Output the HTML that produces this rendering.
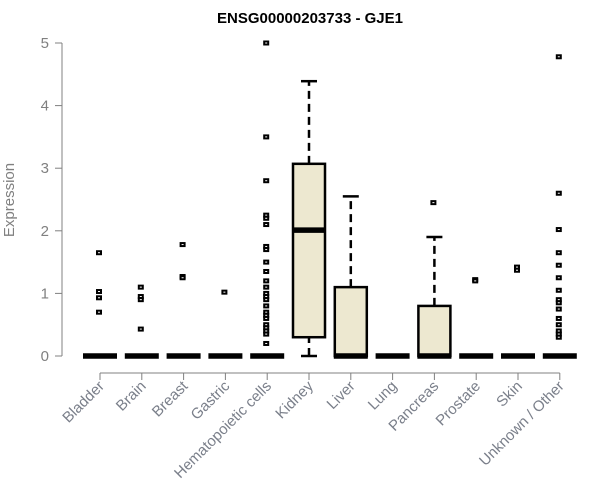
<!DOCTYPE html>
<html><head><meta charset="utf-8"><style>body{margin:0;background:#fff}svg{display:block}</style></head><body>
<svg id="c" width="600" height="500" xmlns="http://www.w3.org/2000/svg" font-family="Liberation Sans, Arial, sans-serif">
<text x="310" y="23" text-anchor="middle" font-weight="bold" font-size="15">ENSG00000203733 - GJE1</text>
<text transform="translate(14,200) rotate(-90)" text-anchor="middle" font-size="15" fill="#808080">Expression</text>
</svg>
<script>
const categories=["Bladder","Brain","Breast","Gastric","Hematopoietic cells","Kidney","Liver","Lung","Pancreas","Prostate","Skin","Unknown / Other"];
const q1=[0,0,0,0,0,0.30,0,0,0,0,0,0];
const medians=[0,0,0,0,0,2.01,0,0,0,0,0,0];
const q3=[0,0,0,0,0,3.07,1.10,0,0.80,0,0,0];
const whiskLo=[0,0,0,0,0,0,0,0,0,0,0,0];
const whiskHi=[0,0,0,0,0,4.39,2.55,0,1.90,0,0,0];
const outliers=[[1.65,1.03,0.93,0.7],[1.1,0.95,0.9,0.43],[1.78,1.27,1.25],[1.02],
[5.0,3.5,2.8,2.25,2.2,2.1,1.75,1.7,1.5,1.35,1.2,1.1,1.0,0.95,0.9,0.8,0.7,0.65,0.6,0.5,0.45,0.4,0.35,0.2],
[],[],[],[2.45],[1.22,1.2],[1.42,1.37],[4.78,2.6,2.02,1.65,1.45,1.25,1.05,0.9,0.85,0.75,0.6,0.5,0.4,0.35,0.3]];
const yTicks=[0,1,2,3,4,5];
const svg=document.getElementById('c');const NS='http://www.w3.org/2000/svg';
const x0=100,dx=41.8,y0=356,ky=62.6;
const X=i=>x0+i*dx, Y=v=>y0-v*ky;
function el(t,a,p){const e=document.createElementNS(NS,t);for(const k in a)e.setAttribute(k,a[k]);(p||svg).appendChild(e);return e;}
const ya=el('g',{});


el('line',{x1:62,x2:62,y1:Y(0),y2:Y(5),stroke:'#808080'},ya);
yTicks.forEach(v=>{el('line',{x1:55,x2:62,y1:Y(v),y2:Y(v),stroke:'#808080'},ya);
const t=el('text',{x:49,y:Y(v)+5,'text-anchor':'end','font-size':15,fill:'#808080'},ya);t.textContent=v;

});
const xa=el('g',{});


el('line',{x1:X(0),x2:X(11),y1:373,y2:373,stroke:'#808080'},xa);
categories.forEach((c,i)=>{el('line',{x1:X(i),x2:X(i),y1:373,y2:380,stroke:'#808080'},xa);
const t=el('text',{transform:`translate(${X(i)+5},${387}) rotate(-45)`,'text-anchor':'end','font-size':15,fill:'#7a7f8a'},xa);t.textContent=c;

});
categories.forEach((c,i)=>{const g=el('g',{});


const cx=X(i),hw=16;
if(whiskHi[i]>q3[i]){el('line',{x1:cx,x2:cx,y1:Y(q3[i]),y2:Y(whiskHi[i]),stroke:'#000','stroke-width':2.5,'stroke-dasharray':'8,5'},g);
el('line',{x1:cx-8,x2:cx+8,y1:Y(whiskHi[i]),y2:Y(whiskHi[i]),stroke:'#000','stroke-width':2.5},g);}
if(q1[i]>whiskLo[i]){el('line',{x1:cx,x2:cx,y1:Y(whiskLo[i]),y2:Y(q1[i]),stroke:'#000','stroke-width':2.5,'stroke-dasharray':'8,5'},g);
el('line',{x1:cx-8,x2:cx+8,y1:Y(whiskLo[i]),y2:Y(whiskLo[i]),stroke:'#000','stroke-width':2.5},g);}
if(q3[i]>q1[i])el('rect',{x:cx-hw,y:Y(q3[i]),width:hw*2,height:Y(q1[i])-Y(q3[i]),fill:'#ede8d0',stroke:'#000','stroke-width':2.5},g);
el('line',{x1:cx-hw-1,x2:cx+hw+1,y1:Y(medians[i]),y2:Y(medians[i]),stroke:'#000','stroke-width':5.5},g);
outliers[i].forEach(v=>{const r=el('rect',{x:cx-3,y:Y(v)-1.5,width:4,height:3,fill:'#fff',stroke:'#000','stroke-width':2},g);

});
});
</script>
</body></html>
